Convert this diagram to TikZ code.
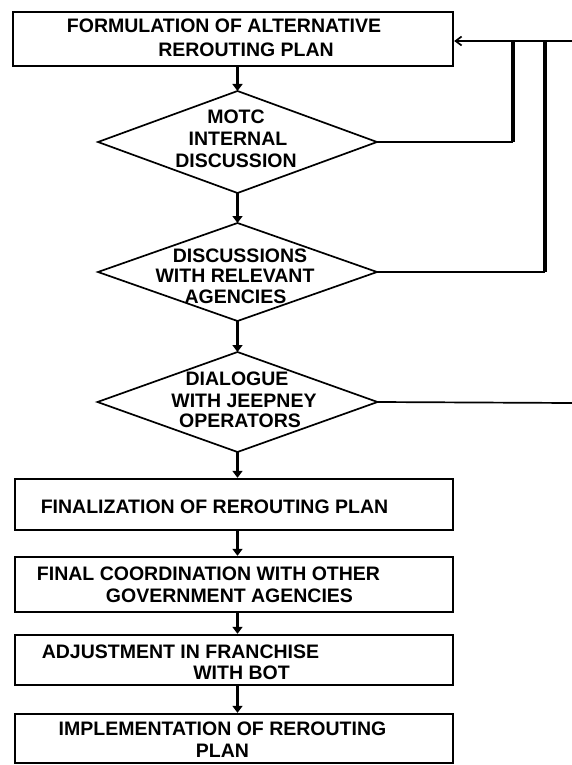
\documentclass[tikz,border=0pt]{standalone}
\usepackage{fontspec}
\setmainfont{Liberation Sans}
\usetikzlibrary{shapes.geometric,arrows.meta}
\tikzset{
  box/.style={draw, line width=2.4pt, rectangle, minimum width=438pt, inner sep=0pt},
  dia/.style={draw, line width=1.7pt, diamond, inner sep=0pt, outer sep=0pt},
  lbl/.style={anchor=base, inner sep=0pt, font=\fontsize{19.5}{23}\selectfont\bfseries},
  arr/.style={line width=3.4pt, -{Triangle[length=7pt,width=10pt]}},
  fb/.style={line width=1.7pt},
  fbv/.style={line width=3.6pt},
}
\begin{document}
\begin{tikzpicture}[x=1pt,y=-1pt]
\useasboundingbox (0,0) rectangle (572,765);
% shapes
\node[box, minimum width=440pt, minimum height=54pt] (top) at (233,39) {};
\node[dia, minimum width=279pt, minimum height=102pt] (motc) at (237.5,142) {};
\node[dia, minimum width=279pt, minimum height=98pt] (disc) at (237.5,272) {};
\node[dia, minimum width=280pt, minimum height=100pt] (dial) at (237.5,402) {};
\node[box, minimum height=51pt] (fin) at (234,504.5) {};
\node[box, minimum height=55pt] (coord) at (234,584.5) {};
\node[box, minimum height=50pt] (adj) at (234,660) {};
\node[box, minimum height=49pt] (impl) at (234,738.5) {};
% texts
\node[lbl] (t1a) at (224,33) {FORMULATION OF ALTERNATIVE};
\node[lbl] (t1b) at (246,57) {REROUTING PLAN};
\node[lbl] (t2a) at (236,124) {MOTC};
\node[lbl] (t2b) at (238,146) {INTERNAL};
\node[lbl] (t2c) at (236,167) {DISCUSSION};
\node[lbl] (t3a) at (240,262) {DISCUSSIONS};
\node[lbl] (t3b) at (235,282) {WITH RELEVANT};
\node[lbl] (t3c) at (235.5,303) {AGENCIES};
\node[lbl] (t4a) at (237,385) {DIALOGUE};
\node[lbl] (t4b) at (244,407) {WITH JEEPNEY};
\node[lbl] (t4c) at (240,427) {OPERATORS};
\node[lbl] (t5a) at (214.5,513) {FINALIZATION OF REROUTING PLAN};
\node[lbl] (t6a) at (208.5,580) {FINAL COORDINATION WITH OTHER};
\node[lbl] (t6b) at (229.5,602) {GOVERNMENT AGENCIES};
\node[lbl] (t7a) at (180.5,658) {ADJUSTMENT IN FRANCHISE};
\node[lbl] (t7b) at (241.5,679) {WITH BOT};
\node[lbl] (t8a) at (222.5,735) {IMPLEMENTATION OF REROUTING};
\node[lbl] (t8b) at (222.5,757) {PLAN};
% main flow
\draw[arr] (top.south -| motc.north) -- (motc.north);
\draw[arr] (motc.south) -- (disc.north);
\draw[arr] (disc.south) -- (dial.north);
\draw[arr] (dial.south) -- (dial.south |- fin.north);
\draw[arr] (fin.south -| dial.south) -- (coord.north -| dial.south);
\draw[arr] (coord.south -| dial.south) -- (adj.north -| dial.south);
\draw[arr] (adj.south -| dial.south) -- (impl.north -| dial.south);
% feedback
\coordinate (rin) at (572,41);
\coordinate (v1) at (513,41);
\coordinate (v2) at (545,41);
\coordinate (rout) at (572,403);
\draw[fb, -{Straight Barb[length=6pt,width=9pt]}] (rin) -- (rin -| top.east);
\draw[fb] (motc.east) -- (motc.east -| v1);
\draw[fbv] (motc.east -| v1) -- (v1);
\draw[fb] (disc.east) -- (disc.east -| v2);
\draw[fbv] (disc.east -| v2) -- (v2);
\draw[fb] (dial.east) -- (rout);
\end{tikzpicture}
\end{document}
